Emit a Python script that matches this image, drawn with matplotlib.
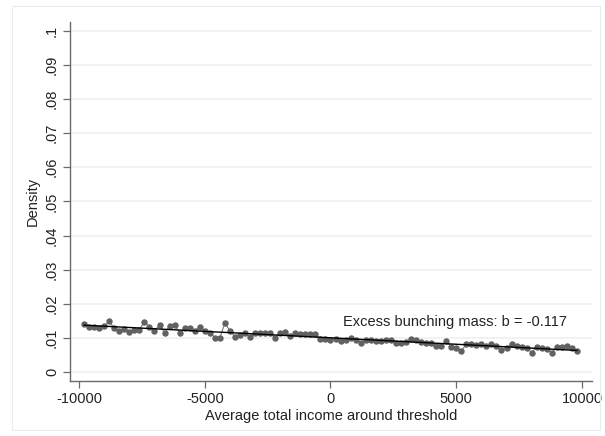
import numpy as np
import matplotlib
matplotlib.use("Agg")
import matplotlib.pyplot as plt
from matplotlib.patches import Rectangle

plt.rcParams["font.family"] = ["Liberation Sans", "DejaVu Sans"]

# binned income (bin centres, width 200) and estimated density per bin
bin_x = list(range(-9800, 9801, 200))
density = [
    0.0141, 0.0132, 0.0132, 0.0128, 0.0134, 0.0148, 0.0128, 0.0121, 0.0127, 0.0117,
    0.0124, 0.0124, 0.0147, 0.0132, 0.0121, 0.0138, 0.0115, 0.0136, 0.0138, 0.0115,
    0.0128, 0.0128, 0.0121, 0.0132, 0.0121, 0.0115, 0.0101, 0.0101, 0.0143, 0.0121,
    0.0103, 0.0109, 0.0113, 0.0103, 0.0113, 0.0113, 0.0113, 0.0113, 0.0100, 0.0115,
    0.0116, 0.0105, 0.0113, 0.0110, 0.0110, 0.0110, 0.0110, 0.0097, 0.0097, 0.0093,
    0.0097, 0.0091, 0.0095, 0.0101, 0.0093, 0.0086, 0.0093, 0.0093, 0.0091, 0.0091,
    0.0093, 0.0095, 0.0084, 0.0085, 0.0087, 0.0096, 0.0093, 0.0089, 0.0086, 0.0086,
    0.0077, 0.0077, 0.0090, 0.0074, 0.0071, 0.0062, 0.0081, 0.0081, 0.0079, 0.0082,
    0.0076, 0.0081, 0.0077, 0.0064, 0.0070, 0.0081, 0.0076, 0.0074, 0.0071, 0.0057,
    0.0074, 0.0071, 0.0067, 0.0057, 0.0072, 0.0074, 0.0076, 0.0069, 0.0062,
]
bunching_b = -0.117

y_ticks = [0, 0.01, 0.02, 0.03, 0.04, 0.05, 0.06, 0.07, 0.08, 0.09, 0.1]
y_ticklabels = ["0", ".01", ".02", ".03", ".04", ".05", ".06", ".07", ".08", ".09", ".1"]
x_ticks = [-10000, -5000, 0, 5000, 10000]

x = np.array(bin_x, dtype=float)
y = np.array(density)
coef = np.polyfit(x, y, 1)
fit = np.polyval(coef, x)

fig = plt.figure(figsize=(6.05, 4.36), dpi=100)
fig.patches.append(Rectangle((12 / 605, 6 / 436), 588 / 605, 424 / 436,
                             transform=fig.transFigure, fill=False,
                             edgecolor="#ececec", linewidth=0.8))
ax = fig.add_axes([70 / 605, 55 / 436, 522 / 605, 359 / 436])

ax.plot(x, y, color="#7a7a7a", lw=0.8, marker="o", ms=3.6,
        mfc="#616161", mec="#616161", zorder=3)
ax.plot(x, fit, color="black", lw=1.0, zorder=4)

ax.text(500, 0.0147, f"Excess bunching mass: b = {bunching_b}",
        fontsize=10.5, ha="left", va="center", color="#222222")

ax.set_xlim(-10360, 10400)
ax.set_ylim(-0.00265, 0.1026)
ax.set_yticks(y_ticks)
ax.set_yticklabels(y_ticklabels, rotation=90, va="center")
ax.set_xticks(x_ticks)
ax.set_xticklabels([str(t) for t in x_ticks])
ax.tick_params(axis="both", labelsize=10.5, length=5, width=0.9,
               color="#6a6a6a", labelcolor="#222222", pad=3)
ax.grid(axis="y", color="#efefef", lw=1.2)
ax.set_axisbelow(True)
for side in ("top", "right"):
    ax.spines[side].set_visible(False)
for side in ("left", "bottom"):
    ax.spines[side].set_color("#6a6a6a")
    ax.spines[side].set_linewidth(1.0)

ax.set_xlabel("Average total income around threshold", fontsize=10.5,
              color="#222222", labelpad=2)
ax.set_ylabel("Density", fontsize=10.5, color="#222222", labelpad=4)

fig.savefig("out.png", dpi=100)
